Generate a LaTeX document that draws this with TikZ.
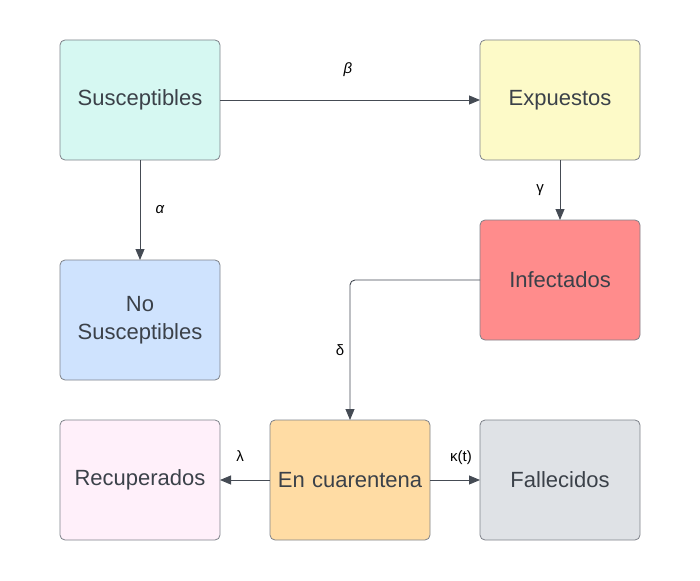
\documentclass[tikz,border=0pt]{standalone}
\usepackage{fontspec}
\setmainfont{Liberation Sans}
\usetikzlibrary{positioning,arrows.meta}
\definecolor{boxline}{HTML}{7E828A}
\definecolor{txtgray}{HTML}{3B4149}
\definecolor{arrgray}{HTML}{454B54}
\definecolor{cSus}{HTML}{D6F8F2}
\definecolor{cExp}{HTML}{FDFAC8}
\definecolor{cNoS}{HTML}{CFE3FE}
\definecolor{cInf}{HTML}{FF8C8C}
\definecolor{cCua}{HTML}{FFDCA4}
\definecolor{cRec}{HTML}{FFF0FA}
\definecolor{cFal}{HTML}{DFE2E6}
\tikzstyle{sbox}=[rectangle, rounded corners=5pt, draw=boxline, line width=0.8pt,
                  minimum width=160pt, minimum height=120pt, inner sep=2pt, outer sep=0pt,
                  text=txtgray, font=\fontsize{22}{28}\selectfont,
                  text width=150pt, align=center]
\tikzstyle{pline}=[-{Triangle[length=11pt,width=9pt,fill=arrgray]}, line width=0.9pt, draw=arrgray]
\tikzstyle{rate}=[font=\fontsize{15}{18}\selectfont, text=black]
\begin{document}
\begin{tikzpicture}[x=1pt, y=-1pt]
\useasboundingbox (0,0) rectangle (700,580);

\node (SUS) [sbox, fill=cSus] at (140,100) {Susceptibles};
\node (EXP) [sbox, fill=cExp, right=260pt of SUS] {Expuestos};
\node (NOS) [sbox, fill=cNoS, below=100pt of SUS] {No\\Susceptibles};
\node (INF) [sbox, fill=cInf, below=60pt of EXP] {Infectados};
\node (CUA) [sbox, fill=cCua] at (350,480) {En cuarentena};
\node (REC) [sbox, fill=cRec, left=50pt of CUA] {Recuperados};
\node (FAL) [sbox, fill=cFal, right=50pt of CUA] {Fallecidos};

 \draw[pline] (SUS.east) -- (EXP.west);
 \draw[pline] (SUS.south) -- (NOS.north);
 \draw[pline] (EXP.south) -- (INF.north);
 \draw[pline, rounded corners=5pt] (INF.west) -| (CUA.north);
 \draw[pline] (CUA.west) -- (REC.east);
 \draw[pline] (CUA.east) -- (FAL.west);

\node (BETA) [rate] at (348,70) {\itshape β};
\node (ALFA) [rate] at (160,210) {\itshape α};
\node (GAMA) [rate] at (540,190) {γ};
\node (DELTA) [rate] at (340,350) {δ};
\node (LAMB) [rate] at (240,456) {λ};
\node (KAPA) [rate] at (461,458) {κ(t)};

\end{tikzpicture}
\end{document}
